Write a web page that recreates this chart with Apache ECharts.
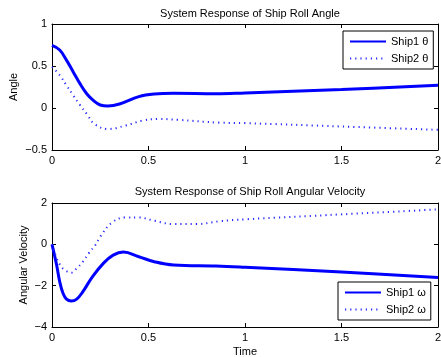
<!DOCTYPE html>
<html>
<head>
<meta charset="utf-8">
<script src="https://cdn.jsdelivr.net/npm/echarts@6/dist/echarts.min.js"></script>
<style>
  html, body { margin: 0; padding: 0; background: #fff; }
  #chart { width: 441px; height: 357px; }
</style>
</head>
<body>
<div id="chart"></div>
<script>
// values
const xTicks = [0, 0.5, 1, 1.5, 2];
const angleTicks = [-0.5, 0, 0.5, 1];
const velTicks = [-4, -2, 0, 2];

const tShip1Theta = [0, 0.04, 0.075, 0.11, 0.145, 0.18, 0.214, 0.25, 0.29, 0.35, 0.45, 0.53, 0.63, 0.85, 1.0, 1.5, 2.0];
const ship1Theta = [0.745, 0.69, 0.57, 0.43, 0.29, 0.17, 0.09, 0.036, 0.024, 0.048, 0.135, 0.166, 0.175, 0.17, 0.18, 0.22, 0.27];

const tShip2Theta = [0, 0.04, 0.075, 0.11, 0.145, 0.18, 0.22, 0.29, 0.38, 0.47, 0.55, 0.65, 0.87, 1.0, 1.5, 2.0];
const ship2Theta = [0.49, 0.39, 0.27, 0.15, 0.036, -0.07, -0.19, -0.25, -0.21, -0.15, -0.13, -0.14, -0.175, -0.18, -0.22, -0.26];

const tShip1Omega = [0, 0.024, 0.04, 0.057, 0.075, 0.10, 0.128, 0.16, 0.21, 0.266, 0.317, 0.37, 0.45, 0.53, 0.63, 0.85, 1.0, 1.5, 2.0];
const ship1Omega = [0, -1.0, -1.81, -2.37, -2.65, -2.74, -2.65, -2.29, -1.56, -0.92, -0.52, -0.37, -0.6, -0.84, -1.0, -1.05, -1.11, -1.34, -1.6];

const tShip2Omega = [0, 0.024, 0.04, 0.065, 0.10, 0.128, 0.16, 0.19, 0.225, 0.25, 0.31, 0.38, 0.45, 0.53, 0.63, 0.75, 0.87, 1.0, 1.5, 2.0];
const ship2Omega = [0, -0.68, -0.97, -1.24, -1.37, -1.16, -0.84, -0.44, -0.03, 0.37, 1.05, 1.3, 1.3, 1.14, 0.98, 0.98, 1.12, 1.21, 1.45, 1.69];

const FONT = "Liberation Sans";
const pair = (ts, vs) => ts.map((t, i) => [t, vs[i]]);
const minus = v => String(v).replace('-', '\u2212');

function xAxes(gi) {
    const base = {
        type: 'value', gridIndex: gi, min: 0, max: 2, interval: 0.5,
        axisLine: { show: true, onZero: false, lineStyle: { color: '#000', width: 1 } },
        axisTick: { show: true, inside: true, length: 4, lineStyle: { color: '#000' } },
        splitLine: { show: false }
    };
    return [
        Object.assign({}, base, {
            position: 'bottom',
            axisLabel: { color: '#000', fontFamily: FONT, fontSize: 11, margin: 5, formatter: v => xTicks.includes(v) ? String(v) : '' },
            name: gi === 1 ? 'Time' : '', nameLocation: 'middle', nameGap: 19, nameMoveOverlap: false,
            nameTextStyle: { color: '#000', fontFamily: FONT, fontSize: 11 }
        }),
        Object.assign({}, base, { position: 'top', axisLabel: { show: false } })
    ];
}

function yAxes(gi, min, max, interval, ticks, name, gap) {
    const base = {
        type: 'value', gridIndex: gi, min: min, max: max, interval: interval,
        axisLine: { show: true, onZero: false, lineStyle: { color: '#000', width: 1 } },
        axisTick: { show: true, inside: true, length: 4, lineStyle: { color: '#000' } },
        splitLine: { show: false }
    };
    return [
        Object.assign({}, base, {
            position: 'left',
            axisLabel: { color: '#000', fontFamily: FONT, fontSize: 11, margin: 5, formatter: v => ticks.includes(v) ? minus(v) : '' },
            name: name, nameLocation: 'middle', nameGap: gap, nameRotate: 90, nameMoveOverlap: false,
            nameTextStyle: { color: '#000', fontFamily: FONT, fontSize: 11 }
        }),
        Object.assign({}, base, { position: 'right', axisLabel: { show: false } })
    ];
}

const solid = { color: '#0000ff', width: 3 };
const dotted = { color: '#2a2aff', width: 2, type: [1.2, 4] };
const noMark = { color: 'transparent', borderColor: 'transparent', borderWidth: 0 };

const chart = echarts.init(document.getElementById('chart'), null, { renderer: 'canvas' });
chart.setOption({
    animation: false,
    backgroundColor: '#fff',
    title: [
        { text: 'System Response of Ship Roll Angle', left: 245, top: 3, textAlign: 'center',
          textStyle: { fontFamily: FONT, fontSize: 11, fontWeight: 'normal', color: '#000' } },
        { text: 'System Response of Ship Roll Angular Velocity', left: 245, top: 181, textAlign: 'center',
          textStyle: { fontFamily: FONT, fontSize: 11, fontWeight: 'normal', color: '#000' } }
    ],
    grid: [
        { left: 52, top: 24, width: 386, height: 126, outerBoundsMode: 'none' },
        { left: 52, top: 203, width: 386, height: 124, outerBoundsMode: 'none' }
    ],
    legend: [
        { data: ['Ship1 \u03b8', 'Ship2 \u03b8'], orient: 'vertical', left: 343, top: 31,
          itemWidth: 36, itemHeight: 10, itemGap: 6, padding: [5, 5, 5, 6], itemStyle: noMark,
          borderColor: '#000', borderWidth: 1, backgroundColor: '#fff',
          textStyle: { fontFamily: FONT, fontSize: 11, color: '#000' } },
        { data: ['Ship1 \u03c9', 'Ship2 \u03c9'], orient: 'vertical', left: 338, top: 282,
          itemWidth: 36, itemHeight: 10, itemGap: 6, padding: [5, 5, 5, 6], itemStyle: noMark,
          borderColor: '#000', borderWidth: 1, backgroundColor: '#fff',
          textStyle: { fontFamily: FONT, fontSize: 11, color: '#000' } }
    ],
    xAxis: xAxes(0).concat(xAxes(1)),
    yAxis: yAxes(0, -0.5, 1, 0.5, angleTicks, 'Angle', 33)
        .concat(yAxes(1, -4, 2, 2, velTicks, 'Angular Velocity', 23)),
    series: [
        { name: 'Ship1 \u03b8', type: 'line', xAxisIndex: 0, yAxisIndex: 0, data: pair(tShip1Theta, ship1Theta),
          smooth: 0.4, showSymbol: false, symbol: 'none', lineStyle: solid, itemStyle: { color: '#0000ff' } },
        { name: 'Ship2 \u03b8', type: 'line', xAxisIndex: 0, yAxisIndex: 0, data: pair(tShip2Theta, ship2Theta),
          smooth: 0.4, showSymbol: false, symbol: 'none', lineStyle: dotted, itemStyle: { color: '#2a2aff' } },
        { name: 'Ship1 \u03c9', type: 'line', xAxisIndex: 2, yAxisIndex: 2, data: pair(tShip1Omega, ship1Omega),
          smooth: 0.4, showSymbol: false, symbol: 'none', lineStyle: solid, itemStyle: { color: '#0000ff' } },
        { name: 'Ship2 \u03c9', type: 'line', xAxisIndex: 2, yAxisIndex: 2, data: pair(tShip2Omega, ship2Omega),
          smooth: 0.4, showSymbol: false, symbol: 'none', lineStyle: dotted, itemStyle: { color: '#2a2aff' } }
    ]
});
</script>
</body>
</html>
